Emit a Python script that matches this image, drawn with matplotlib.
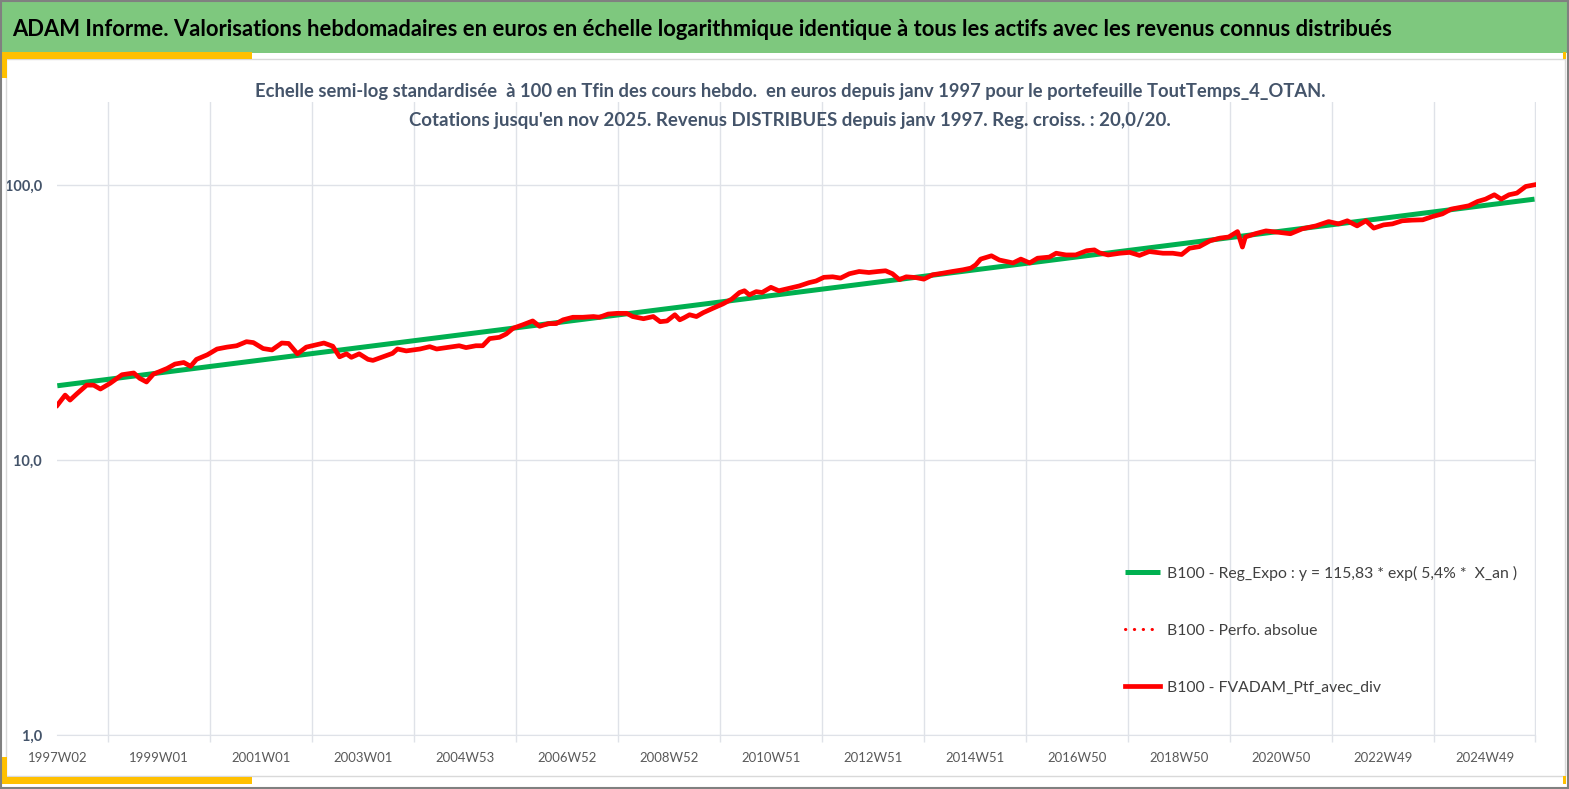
import matplotlib
matplotlib.use('Agg')
import matplotlib.pyplot as plt
from matplotlib.patches import Rectangle
from matplotlib.ticker import FixedLocator, NullLocator

# fonts: narrow family first, fallbacks after
plt.rcParams['font.family'] = ['Liberation Sans Narrow', 'Lato', 'DejaVu Sans']

W, H = 1569, 789

# ---- data (base 100 at the last week) ----
# weekly index counted from 1997W02
red_weeks = [0, 8, 13, 20, 30, 37, 44, 54, 66, 78, 84, 91, 98, 112, 120, 129,
             136, 142, 153, 163, 173, 183, 193, 200, 210, 219, 229, 236, 245,
             254, 264, 272, 281, 288, 295, 300, 308, 317, 322, 332, 342, 347,
             356, 370, 380, 387, 397, 410, 417, 427, 434, 441, 451, 458, 465,
             475, 485, 492, 501, 509, 516, 526, 536, 547, 553, 562, 571, 581,
             587, 598, 608, 615, 622, 630, 635, 639, 645, 652, 659, 669, 679,
             688, 696, 701, 706, 713, 719, 728, 736, 747, 757, 767, 774, 782,
             791, 799, 808, 818, 828, 837, 845, 852, 859, 866, 876, 884, 893,
             903, 913, 924, 932, 937, 942, 948, 953, 961, 975, 983, 992, 1000,
             1012, 1019, 1029, 1039, 1050, 1058, 1063, 1072, 1084, 1094, 1104,
             1114, 1128, 1138, 1147, 1155, 1165, 1176, 1186, 1195, 1204, 1209,
             1212, 1222, 1233, 1246, 1258, 1270, 1284, 1297, 1307, 1316, 1326,
             1335, 1343, 1353, 1362, 1372, 1382, 1393, 1403, 1413, 1422, 1432,
             1440, 1449, 1457, 1466, 1473, 1481, 1489, 1498, 1507]
red_values = [15.8, 17.2, 16.5, 17.4, 18.7, 18.7, 18.1, 19.0, 20.4, 20.7, 19.8,
              19.2, 20.5, 21.5, 22.3, 22.6, 21.9, 23.2, 24.1, 25.3, 25.7, 26.0,
              26.9, 26.7, 25.4, 25.1, 26.6, 26.5, 24.3, 25.7, 26.2, 26.6, 25.9,
              23.7, 24.3, 23.6, 24.3, 23.2, 23.0, 23.7, 24.4, 25.3, 24.9, 25.3,
              25.8, 25.3, 25.6, 26.0, 25.6, 26.0, 26.0, 27.6, 27.9, 28.7, 30.1,
              31.0, 32.0, 30.6, 31.3, 31.3, 32.3, 33.0, 33.0, 33.2, 33.0, 33.9,
              34.1, 34.1, 33.2, 32.6, 33.2, 31.8, 32.0, 33.7, 32.3, 32.8, 33.7,
              33.2, 34.3, 35.6, 36.9, 38.4, 40.6, 41.2, 39.8, 40.9, 40.6, 42.4,
              41.2, 42.1, 42.9, 44.1, 44.7, 46.1, 46.3, 45.8, 47.5, 48.4, 48.0,
              48.4, 48.7, 47.5, 45.2, 46.3, 46.0, 45.4, 47.1, 47.7, 48.4, 49.1,
              49.8, 51.2, 53.7, 54.5, 55.2, 53.3, 52.0, 53.7, 52.0, 54.1, 54.6,
              56.4, 55.6, 55.6, 57.6, 58.0, 56.6, 55.6, 56.4, 56.8, 55.4, 57.2,
              56.4, 56.4, 55.8, 58.8, 59.6, 62.6, 64.0, 64.6, 67.6, 59.4, 64.6,
              66.4, 68.0, 67.2, 66.4, 69.2, 70.9, 73.5, 72.1, 74.0, 70.9, 74.0,
              69.6, 71.5, 72.1, 74.0, 74.4, 74.6, 76.7, 78.4, 81.6, 82.9, 83.9,
              87.0, 88.7, 92.0, 88.7, 92.0, 93.3, 98.6, 100.0]

# exponential regression, straight on the log scale: start / end values
reg_weeks = [0, 1507]
reg_values = [18.6, 88.7]

x_labels = ['1997W02', '1999W01', '2001W01', '2003W01', '2004W53', '2006W52',
            '2008W52', '2010W51', '2012W51', '2014W51', '2016W50', '2018W50',
            '2020W50', '2022W49', '2024W49']
y_ticks = [1, 10, 100]
y_labels = ['1,0', '10,0', '100,0']

title = ("ADAM Informe. Valorisations hebdomadaires en euros en échelle "
         "logarithmique identique à tous les actifs avec les revenus connus distribués")
sub1 = ("Echelle semi-log standardisée  à 100 en Tfin des cours hebdo.  en euros "
        "depuis janv 1997 pour le portefeuille ToutTemps_4_OTAN.")
sub2 = "Cotations jusqu'en nov 2025. Revenus DISTRIBUES depuis janv 1997. Reg. croiss. : 20,0/20."
leg_labels = ['B100 - Reg_Expo : y = 115,83 * exp( 5,4% *  X_an )',
              'B100 - Perfo. absolue',
              'B100 - FVADAM_Ptf_avec_div']

GRID = '#dfe2e8'
SLATE = '#44546a'
GOLD = '#ffc000'

fig = plt.figure(figsize=(W / 100, H / 100), dpi=100)
renderer = fig.canvas.get_renderer()


def fit_size(s, width_px, weight='normal'):
    # font size that gives the text the width seen on the reference
    t = fig.text(0, 0, s, fontsize=12, fontweight=weight)
    w = t.get_window_extent(renderer).width
    t.remove()
    return 12 * width_px / w


def box(x, y, w, h, **kw):
    fig.add_artist(Rectangle((x / W, 1 - (y + h) / H), w / W, h / H,
                             transform=fig.transFigure, **kw))


# frame decorations
box(0, 0, 1567, 53, facecolor='#7ec87e', edgecolor='none')
box(6, 59, 1559, 717, facecolor='none', edgecolor='#d9d9d9', lw=1)
box(0, 52, 252, 7, facecolor=GOLD, edgecolor='none')
box(0, 52, 7, 26, facecolor=GOLD, edgecolor='none')
box(0, 777, 252, 7, facecolor=GOLD, edgecolor='none')
box(0, 757, 7, 27, facecolor=GOLD, edgecolor='none')
box(1563, 52, 3, 7, facecolor=GOLD, edgecolor='none')
box(1563, 776, 3, 8, facecolor=GOLD, edgecolor='none')
box(0.5, 0.5, W - 1.5, H - 1.5, facecolor='none', edgecolor='#808080', lw=1.5)

# titles
fig.text(12 / W, 1 - 36 / H, title, ha='left', va='baseline', color='black',
         fontweight='bold', fontsize=fit_size(title, 1371, 'bold'))
fig.text(790 / W, 1 - 97 / H, sub1, ha='center', va='baseline', color=SLATE,
         fontweight='bold', fontsize=fit_size(sub1, 1064, 'bold'))
fig.text(790 / W, 1 - 126 / H, sub2, ha='center', va='baseline', color=SLATE,
         fontweight='bold', fontsize=fit_size(sub2, 755, 'bold'))

# plot area
ax = fig.add_axes([57.3 / W, 1 - 735 / H, (1535.5 - 57.3) / W, (735 - 102) / H])
ax.set_facecolor('none')

ax.plot(reg_weeks, reg_values, color='#00b050', lw=3.6, solid_capstyle='butt',
        label=leg_labels[0], zorder=2)
ax.plot(red_weeks, red_values, color='#ff0000', lw=2.2, ls=(0, (0.1, 2.8)),
        dash_capstyle='round', label=leg_labels[1], zorder=3)
ax.plot(red_weeks, red_values, color='#ff0000', lw=3.4, solid_joinstyle='round',
        label=leg_labels[2], zorder=4)

ax.set_yscale('log')
ax.set_ylim(1, 200)
ax.set_xlim(0, 1508)

ax.yaxis.set_major_locator(FixedLocator(y_ticks))
ax.yaxis.set_minor_locator(NullLocator())
ax.set_yticklabels(y_labels)
ax.xaxis.set_major_locator(FixedLocator(list(range(0, 104 * len(x_labels), 104))))
ax.set_xticklabels(x_labels)
ax.xaxis.set_minor_locator(FixedLocator(list(range(0, 1509, 52))))

ax.grid(axis='y', which='major', color=GRID, lw=1)
ax.grid(axis='x', which='minor', color=GRID, lw=1)
ax.set_axisbelow(True)

xsize = fit_size('1997W02', 59)
ysize = fit_size('100,0', 37, 'bold')
ax.tick_params(axis='x', which='major', length=0, pad=12, labelsize=xsize,
               labelcolor='#595959')
ax.tick_params(axis='x', which='minor', length=5, width=1, color=GRID)
ax.tick_params(axis='y', which='major', length=0, pad=11, labelsize=ysize,
               labelcolor=SLATE)
for t in ax.get_yticklabels():
    t.set_fontweight('bold')
for side in ['top', 'right', 'left']:
    ax.spines[side].set_visible(False)
ax.spines['bottom'].set_color(GRID)

lsize = fit_size(leg_labels[0], 349)
fs_px = lsize * 100 / 72
row_h = fs_px * 1.2
leg = ax.legend(loc='upper left', bbox_to_anchor=(1125 / W, 1 - (575 - row_h / 2) / H),
                bbox_transform=fig.transFigure, frameon=False, borderpad=0,
                borderaxespad=0, handlelength=35 / fs_px, handletextpad=7 / fs_px,
                labelspacing=(62 - row_h) / fs_px, prop={'size': lsize})
for t in leg.get_texts():
    t.set_color('#404040')

fig.savefig('out.png', dpi=100)
